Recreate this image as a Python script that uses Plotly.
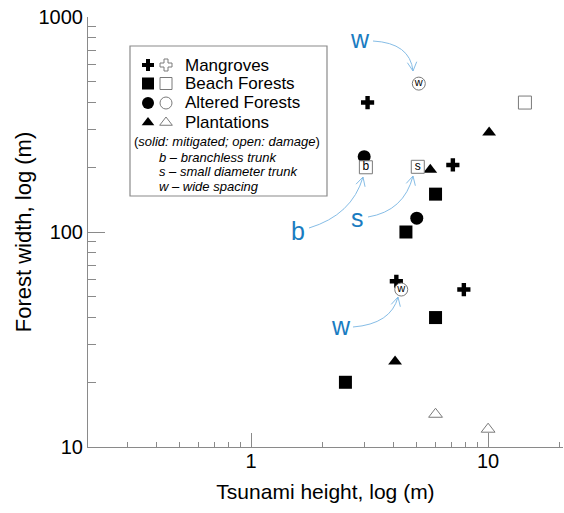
import math
import plotly.graph_objects as go

# ---------------- data ----------------
mangrove_x = [3.1, 7.1, 4.1, 7.9]
mangrove_y = [400, 205, 59, 54]

beach_mit_x = [2.5, 4.5, 6.0, 6.0]
beach_mit_y = [20, 100, 150, 40]
beach_dmg_x = [14.3, 3.05, 5.05]
beach_dmg_y = [400, 200, 201]
beach_dmg_note = ["", "b", "s"]

altered_mit_x = [3.0, 5.0]
altered_mit_y = [224, 116]
altered_dmg_x = [5.1, 4.3]
altered_dmg_y = [490, 54]
altered_dmg_note = ["w", "w"]

plant_mit_x = [10.1, 5.7, 4.05]
plant_mit_y = [290, 195, 25]
plant_dmg_x = [6.0, 10.0]
plant_dmg_y = [14.2, 12.1]

legend_names = ["Mangroves", "Beach Forests", "Altered Forests", "Plantations"]
legend_symbols = ["cross", "square", "circle", "triangle-up"]
legend_notes = ["b \u2013 branchless trunk", "s \u2013 small diameter trunk", "w \u2013 wide spacing"]

x_tickvals = [1, 10]
x_ticktext = ["1", "10"]
x_minor = [0.3, 0.4, 0.5, 0.6, 0.7, 0.8, 0.9, 2, 3, 4, 5, 6, 7, 8, 9, 20]
y_tickvals = [10, 100, 1000]
y_ticktext = ["10", "100", "1000"]
y_minor = [20, 30, 40, 50, 60, 70, 80, 90, 200, 300, 400, 500, 600, 700, 800, 900]

# ---------------- layout helpers (screen pixel -> paper) ----------------
W, H = 564, 513
PL, PR, PT, PB = 88, 563, 17, 447  # plot area in pixels
ML, MT, MR, MB = PL, PT, W - PR, H - PB
PW, PH = PR - PL, PB - PT


def px(x):
    return (x - PL) / PW


def py(y):
    return (PB - y) / PH


FONT = "Liberation Sans, Arial, sans-serif"
GRAY = "#8a8a8a"
OPEN = "#7a7a7a"
BLUE = "#1a7cc1"
LBLUE = "#86bde6"

fig = go.Figure()

solid = dict(color="black", line=dict(width=0))


def open_marker(sym, size):
    return dict(symbol=sym, size=size, color="white", line=dict(color=OPEN, width=1))


fig.add_trace(go.Scatter(x=mangrove_x, y=mangrove_y, mode="markers",
                         marker=dict(symbol="cross", size=11, **solid)))
fig.add_trace(go.Scatter(x=beach_mit_x, y=beach_mit_y, mode="markers",
                         marker=dict(symbol="square", size=13, **solid)))
fig.add_trace(go.Scatter(x=altered_mit_x, y=altered_mit_y, mode="markers",
                         marker=dict(symbol="circle", size=13, **solid)))
fig.add_trace(go.Scatter(x=plant_mit_x, y=plant_mit_y, mode="markers",
                         marker=dict(symbol="triangle-up", size=12, **solid)))
fig.add_trace(go.Scatter(x=plant_dmg_x, y=plant_dmg_y, mode="markers",
                         marker=open_marker("triangle-up", 12)))
fig.add_trace(go.Scatter(x=beach_dmg_x, y=beach_dmg_y, mode="markers+text",
                         text=beach_dmg_note, textposition="middle center",
                         textfont=dict(size=12, color="black", family=FONT),
                         marker=open_marker("square", 13)))
fig.add_trace(go.Scatter(x=altered_dmg_x, y=altered_dmg_y, mode="markers+text",
                         text=altered_dmg_note, textposition="middle center",
                         textfont=dict(size=11, color="black", family=FONT),
                         marker=open_marker("circle", 13)))

# ---------------- legend box (drawn on overlay axes in paper units) ----------------
row_y = [65, 83.5, 103, 122.5]
leg_sizes = {"cross": 10, "square": 12, "circle": 12, "triangle-up": 11}
for sym, yy in zip(legend_symbols, row_y):
    fig.add_trace(go.Scatter(x=[px(148)], y=[py(yy)], xaxis="x2", yaxis="y2", mode="markers",
                             marker=dict(symbol=sym, size=leg_sizes[sym], **solid)))
    fig.add_trace(go.Scatter(x=[px(166)], y=[py(yy)], xaxis="x2", yaxis="y2", mode="markers",
                             marker=open_marker(sym, leg_sizes[sym])))

annotations = []
for name, yy in zip(legend_names, row_y):
    annotations.append(dict(x=px(183), y=py(yy), xref="paper", yref="paper", text=name,
                            showarrow=False, xanchor="left", yanchor="middle",
                            font=dict(size=17, color="black", family=FONT)))
annotations.append(dict(x=px(132), y=py(141), xref="paper", yref="paper",
                        text="(<i>solid: mitigated; open: damage</i>)", showarrow=False,
                        xanchor="left", yanchor="middle",
                        font=dict(size=13, color="black", family=FONT)))
for note, yy in zip(legend_notes, [157, 171.5, 186]):
    annotations.append(dict(x=px(157), y=py(yy), xref="paper", yref="paper",
                            text="<i>" + note + "</i>", showarrow=False,
                            xanchor="left", yanchor="middle",
                            font=dict(size=13, color="black", family=FONT)))

shapes = [dict(type="rect", xref="paper", yref="paper", x0=px(130), x1=px(327),
               y0=py(196), y1=py(46), line=dict(color=GRAY, width=1.2))]

# ---------------- blue call-outs ----------------
callouts = [
    # label, label pos, start, control, tip
    ("w", (360, 39), (373, 41), (410, 43), (413, 71)),
    ("b", (298, 231), (309, 228), (352, 215), (363, 177)),
    ("s", (357, 218), (368, 217), (404, 211), (413, 176)),
    ("w", (341, 326), (353, 327), (391, 324), (398, 297)),
]
for lab, (lx, ly), (sx, sy), (cx, cy), (tx, ty) in callouts:
    annotations.append(dict(x=px(lx), y=py(ly), xref="paper", yref="paper", text=lab,
                            showarrow=False, xanchor="center", yanchor="middle",
                            font=dict(size=25, color=BLUE, family=FONT)))
    shapes.append(dict(type="path", xref="paper", yref="paper",
                       path=f"M {px(sx)},{py(sy)} Q {px(cx)},{py(cy)} {px(tx)},{py(ty)}",
                       line=dict(color=LBLUE, width=1)))
    dx, dy = cx - tx, cy - ty
    d = math.hypot(dx, dy)
    ux, uy = dx / d, dy / d
    L, a = 10, math.radians(28)
    pts = []
    for s in (a, -a):
        rx = ux * math.cos(s) - uy * math.sin(s)
        ry = ux * math.sin(s) + uy * math.cos(s)
        pts.append((tx + L * rx, ty + L * ry))
    shapes.append(dict(type="path", xref="paper", yref="paper",
                       path=f"M {px(pts[0][0])},{py(pts[0][1])} L {px(tx)},{py(ty)} L {px(pts[1][0])},{py(pts[1][1])}",
                       line=dict(color=LBLUE, width=1)))

axis_common = dict(type="log", showline=True, linecolor=GRAY, linewidth=1, mirror=False,
                   showgrid=False, zeroline=False, ticks="inside", tickcolor=GRAY,
                   tickwidth=1, ticklabeloverflow="allow",
                   tickfont=dict(size=20, color="black", family=FONT))

fig.update_layout(
    width=W, height=H, margin=dict(l=ML, r=MR, t=MT, b=MB, autoexpand=False),
    paper_bgcolor="white", plot_bgcolor="white", showlegend=False,
    font=dict(family=FONT),
    xaxis=dict(range=[math.log10(0.205), math.log10(20.7)], tickvals=x_tickvals,
               ticktext=x_ticktext, ticklen=14, automargin=False, ticklabelstandoff=-4,
               minor=dict(tickvals=x_minor, ticks="inside", ticklen=5, tickcolor=GRAY, showgrid=False),
               title=dict(text="Tsunami height, log (m)", font=dict(size=21, color="black", family=FONT),
                          standoff=13),
               **axis_common),
    yaxis=dict(range=[1, 3], tickvals=y_tickvals, ticktext=y_ticktext, ticklen=17, automargin=False,
               minor=dict(tickvals=y_minor, ticks="inside", ticklen=8, tickcolor=GRAY, showgrid=False),
               title=dict(text="Forest width, log (m)", font=dict(size=22, color="black", family=FONT),
                          standoff=0),
               **axis_common),
    xaxis2=dict(overlaying="x", range=[0, 1], visible=False, fixedrange=True),
    yaxis2=dict(overlaying="y", range=[0, 1], visible=False, fixedrange=True),
    annotations=annotations, shapes=shapes,
)

fig.write_html("out.html", config={"displayModeBar": False},
               post_script="document.body.style.margin='0px';")
